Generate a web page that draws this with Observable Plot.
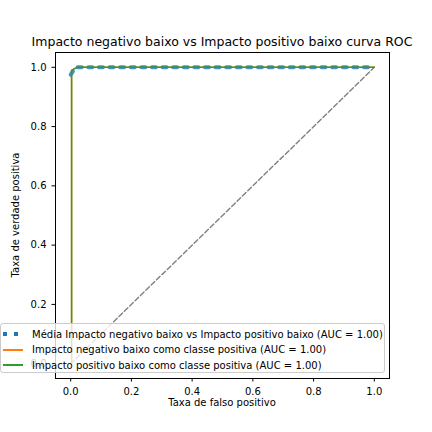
<!DOCTYPE html>
<html>
<head>
<meta charset="UTF-8">
<style>
  body { margin: 0; background: white; font-family: 'DejaVu Sans', sans-serif; }
  #wrap { position: relative; width: 432px; height: 432px; }
  #title { position: absolute; top: 34px; left: 22px; width: 400px; text-align: center; font-size: 12.5px; white-space: nowrap; }
  #xlab { position: absolute; top: 397px; left: 55px; width: 334px; text-align: center; font-size: 10px; }
  #ylab { position: absolute; left: 15px; top: 215px; font-size: 10px; white-space: nowrap; transform: translate(-50%, -50%) rotate(-90deg); transform-origin: center; }
  #legend { position: absolute; left: 0px; top: 323px; width: 383px; height: 48px; background: rgba(255,255,255,0.8);
            border: 1px solid #ccc; border-radius: 3px; font-size: 10px; }
  .row { position: absolute; left: 0; height: 14px; display: flex; align-items: center; white-space: nowrap; }
  .sw { width: 20px; margin-left: 2px; margin-right: 9px; }
</style>
</head>
<body>
<div id="wrap">
  <div id="chart"></div>
  <div id="title">Impacto negativo baixo vs Impacto positivo baixo curva ROC</div>
  <div id="xlab">Taxa de falso positivo</div>
  <div id="ylab">Taxa de verdade positiva</div>
  <div id="legend"></div>
</div>
<script src="https://cdn.jsdelivr.net/npm/d3@7"></script>
<script src="https://cdn.jsdelivr.net/npm/@observablehq/plot@0.6"></script>
<script>
const meanFpr = [0, 0.01, 0.02, 1];
const meanTpr = [0.975, 0.99, 1, 1];
const negFpr = [0, 0.003, 0.003, 0.02, 1];
const negTpr = [0, 0, 0.99, 1, 1];
const posFpr = [0, 0.003, 0.003, 0.02, 1];
const posTpr = [0, 0, 0.99, 1, 1];
const chanceX = [0, 1];
const chanceY = [0, 1];
const labels = [
  "Média Impacto negativo baixo vs Impacto positivo baixo (AUC = 1.00)",
  "Impacto negativo baixo como classe positiva (AUC = 1.00)",
  "Impacto positivo baixo como classe positiva (AUC = 1.00)"
];
const colors = ["#1f77b4", "#ff7f0e", "#2ca02c"];

const pts = (xs, ys) => xs.map((x, i) => ({x, y: ys[i]}));
const fmt = d3.format(".1f");

const plot = Plot.plot({
  width: 432, height: 432,
  marginLeft: 55, marginRight: 43, marginTop: 52, marginBottom: 54,
  style: {fontFamily: "DejaVu Sans", fontSize: "10px", color: "black"},
  x: {domain: [-0.05, 1.05], ticks: [0, 0.2, 0.4, 0.6, 0.8, 1], tickFormat: fmt, tickSize: 3.5, label: null},
  y: {domain: [-0.05, 1.05], ticks: [0, 0.2, 0.4, 0.6, 0.8, 1], tickFormat: fmt, tickSize: 3.5, label: null},
  marks: [
    Plot.frame({stroke: "black"}),
    Plot.line(pts(chanceX, chanceY), {x: "x", y: "y", stroke: "gray", strokeWidth: 1.4, strokeDasharray: "5,2.5"}),
    Plot.line(pts(negFpr, negTpr), {x: "x", y: "y", stroke: colors[1], strokeWidth: 1.5}),
    Plot.line(pts(meanFpr, meanTpr), {x: "x", y: "y", stroke: colors[0], strokeWidth: 4, strokeDasharray: "4,6.6", strokeOpacity: 0.8}),
    Plot.line(pts(posFpr, posTpr), {x: "x", y: "y", stroke: colors[2], strokeWidth: 1.5})
  ]
});
document.querySelector("#chart").append(plot);

const leg = document.querySelector("#legend");
labels.forEach((t, i) => {
  const row = document.createElement("div");
  row.className = "row";
  row.style.top = (3 + i * 15.5) + "px";
  const sw = document.createElement("div");
  sw.className = "sw";
  if (i === 0) {
    sw.style.height = "4px";
    sw.style.background = `repeating-linear-gradient(90deg, ${colors[0]} 0 4px, transparent 4px 10.6px)`;
  } else {
    sw.style.borderTop = `2px solid ${colors[i]}`;
  }
  row.append(sw);
  row.append(document.createTextNode(t));
  leg.append(row);
});
</script>
</body>
</html>
